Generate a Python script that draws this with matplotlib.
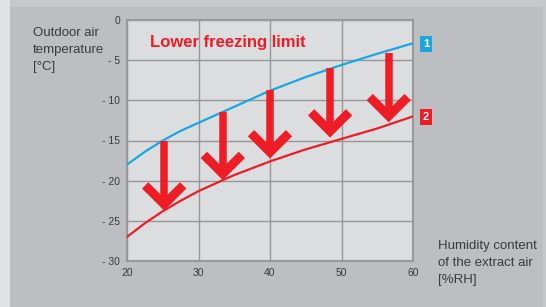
import numpy as np
import matplotlib
matplotlib.use('Agg')
import matplotlib.pyplot as plt
from matplotlib.patches import Rectangle

plt.rcParams['font.family'] = ['Liberation Sans', 'DejaVu Sans']

# humidity of extract air [%RH] and freezing limits [°C]
humidity = [20, 22.5, 25, 27.5, 30, 35, 40, 45, 50, 55, 60]
limit_1 = [-18, -16.4, -15, -13.8, -12.8, -10.8, -8.8, -7.1, -5.6, -4.2, -2.9]
limit_2 = [-27, -25.3, -23.8, -22.5, -21.3, -19.3, -17.6, -16.1, -14.8, -13.5, -12]

# arrows from limit 1 down to limit 2
arrow_x = [25.2, 33.4, 40.0, 48.4, 56.6]
arrow_top = [-15.1, -11.4, -8.7, -6.0, -4.1]
arrow_tip = [-23.7, -19.9, -17.2, -14.6, -12.7]

x_ticks = [20, 30, 40, 50, 60]
y_ticks = [0, -5, -10, -15, -20, -25, -30]
y_ticklabels = ['0', '- 5', '- 10', '- 15', '- 20', '- 25', '- 30']

blue = '#1aa7e0'
red = '#ee1c25'
text_c = '#3a3a3a'

fig = plt.figure(figsize=(5.46, 3.07), dpi=100)
fig.patch.set_facecolor('#c6c9cc')
fig.patches.append(Rectangle((0, 0), 10 / 546, 1, transform=fig.transFigure,
                             facecolor='#e0e2e3', edgecolor='none', zorder=-2))
fig.patches.append(Rectangle((10 / 546, 0), 533 / 546, 300 / 307,
                             transform=fig.transFigure,
                             facecolor='#bdbec2', edgecolor='none', zorder=-1))

ax = fig.add_axes([127 / 546, 46 / 307, 286 / 546, 241 / 307])
ax.set_facecolor('#dcdddf')
ax.set_xlim(20, 60)
ax.set_ylim(-30, 0)
ax.set_xticks(x_ticks)
ax.set_yticks(y_ticks)
ax.set_yticklabels(y_ticklabels)
ax.tick_params(length=0, labelsize=7.5, colors=text_c, pad=5)
ax.grid(True, color='#969696', linewidth=1.0)
ax.set_axisbelow(True)
for s in ax.spines.values():
    s.set_color('#999999')
    s.set_linewidth(1.5)

ax.plot(humidity, limit_1, color=blue, lw=1.6, zorder=3)
ax.plot(humidity, limit_2, color=red, lw=1.6, zorder=3)

# arrows: thick shaft + chevron head, sized in pixels
fig.canvas.draw()
to_px = ax.transData
to_data = ax.transData.inverted()
for x, y0, y1 in zip(arrow_x, arrow_top, arrow_tip):
    px, py_top = to_px.transform((x, y0))
    _, py_tip = to_px.transform((x, y1))
    shaft = to_data.transform([(px, py_top), (px, py_tip + 8)])
    ax.plot(shaft[:, 0], shaft[:, 1], color=red, lw=5.4,
            solid_capstyle='butt', zorder=4)
    head = to_data.transform([(px - 19, py_tip + 25), (px, py_tip + 6),
                              (px + 19, py_tip + 25)])
    ax.plot(head[:, 0], head[:, 1], color=red, lw=6.4,
            solid_capstyle='butt', solid_joinstyle='miter', zorder=4)

ax.text(0.08, 0.905, 'Lower freezing limit', transform=ax.transAxes,
        color=red, fontsize=12, fontweight='bold', va='center', ha='left')

# curve labels
fig.text(426 / 546, 1 - 44 / 307, '1', color='white', fontsize=8,
         fontweight='bold', ha='center', va='center',
         bbox=dict(boxstyle='square,pad=0.25', fc=blue, ec='none'))
fig.text(426 / 546, 1 - 117 / 307, '2', color='white', fontsize=8,
         fontweight='bold', ha='center', va='center',
         bbox=dict(boxstyle='square,pad=0.25', fc=red, ec='none'))

fig.text(33 / 546, 1 - 27 / 307, 'Outdoor air\ntemperature\n[°C]',
         color=text_c, fontsize=9.5, ha='left', va='top', linespacing=1.55)
fig.text(438 / 546, 1 - 240 / 307, 'Humidity content\nof the extract air\n[%RH]',
         color=text_c, fontsize=9.5, ha='left', va='top', linespacing=1.55)

fig.savefig('out.png', dpi=100, facecolor=fig.get_facecolor())
